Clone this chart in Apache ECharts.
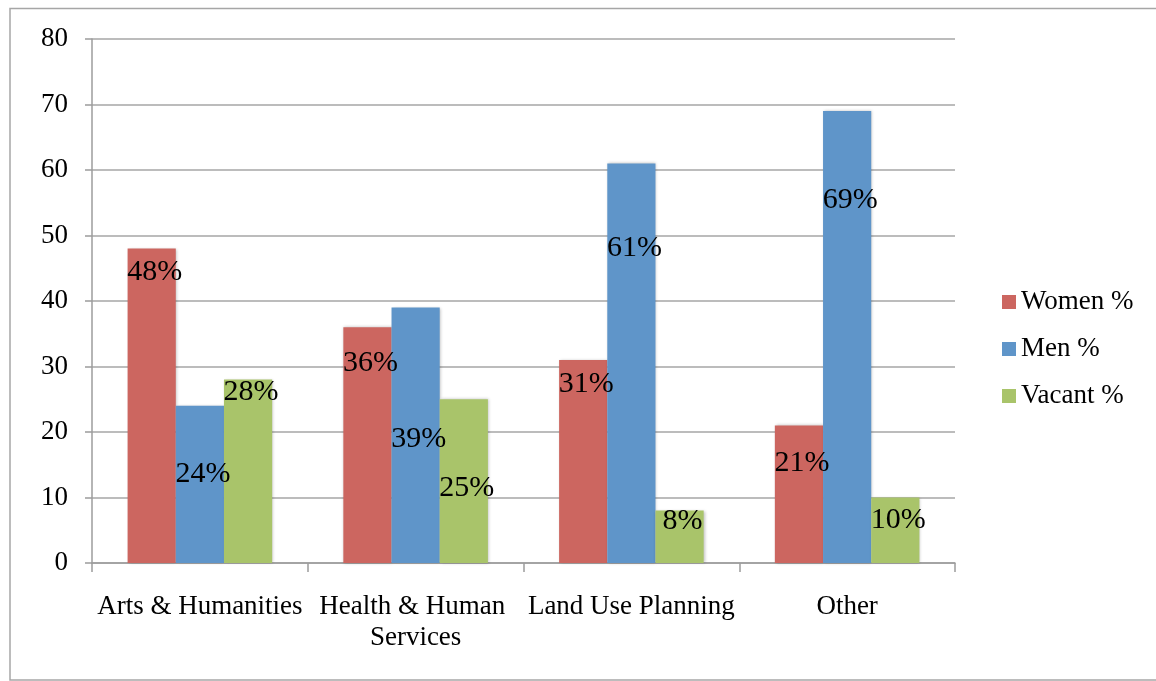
<!DOCTYPE html>
<html>
<head>
<meta charset="utf-8">
<script src="https://cdn.jsdelivr.net/npm/echarts@6/dist/echarts.min.js"></script>
<style>
html,body{margin:0;padding:0;background:#fff;}
#chart{width:1156px;height:681px;}
</style>
</head>
<body>
<div id="chart"></div>
<script>
const categories = ['Arts & Humanities', 'Health & Human Services', 'Land Use Planning', 'Other'];
const seriesNames = ['Women %', 'Men %', 'Vacant %'];
const women = [48, 36, 31, 21];
const men = [24, 39, 61, 69];
const vacant = [28, 25, 8, 10];
const yTicks = { min: 0, max: 80, interval: 10 };

// label placement (px below bar top), a layout setting
const labelDrop = {
  'Women %': [24, 36, 24, 38],
  'Men %': [68, 132, 85, 89],
  'Vacant %': [13, 89, 11, 23]
};
const colors = { 'Women %': '#CC6660', 'Men %': '#5F95C9', 'Vacant %': '#A9C46A' };
const FONT = 'Liberation Serif';

const chart = echarts.init(document.getElementById('chart'), null, { renderer: 'canvas' });

function makeSeries(name, values) {
  return {
    name: name,
    type: 'bar',
    barGap: '0%',
    barCategoryGap: '33%',
    itemStyle: {
      color: colors[name],
      shadowColor: 'rgba(0,0,0,0.25)',
      shadowBlur: 3,
      shadowOffsetX: 1,
      shadowOffsetY: 0
    },
    data: values.map((v, i) => ({
      value: v,
      label: {
        show: true,
        position: ['50%', labelDrop[name][i]],
        align: 'center',
        verticalAlign: 'middle',
        offset: [3, 0],
        formatter: v + '%',
        fontFamily: FONT,
        fontSize: 30,
        color: '#000'
      }
    }))
  };
}

chart.setOption({
  animation: false,
  backgroundColor: '#fff',
  textStyle: { fontFamily: FONT },
  graphic: [{
    type: 'rect',
    shape: { x: 10, y: 8.5, width: 1200, height: 671.5 },
    style: { fill: 'none', stroke: '#a6a6a6', lineWidth: 1.5 },
    silent: true,
    z: -10
  }],
  grid: { left: 92, right: 1156 - 955, top: 39, bottom: 681 - 563, containLabel: false },
  legend: {
    orient: 'vertical',
    left: 997,
    top: 282,
    icon: 'rect',
    itemWidth: 14,
    itemHeight: 14,
    itemGap: 17,
    itemTextGap: 6,
    textStyle: { fontFamily: FONT, fontSize: 27, color: '#000', lineHeight: 30 },
    data: seriesNames
  },
  xAxis: {
    type: 'category',
    data: categories,
    axisLine: { show: true, lineStyle: { color: '#9c9c9c', width: 1.5 } },
    axisTick: { show: true, alignWithLabel: false, length: 9, lineStyle: { color: '#9c9c9c', width: 1.5 } },
    axisLabel: {
      interval: 0,
      margin: 28,
      width: 215,
      overflow: 'break',
      fontFamily: FONT,
      fontSize: 27,
      lineHeight: 31,
      color: '#000'
    },
    splitLine: { show: false }
  },
  yAxis: {
    type: 'value',
    min: yTicks.min,
    max: yTicks.max,
    interval: yTicks.interval,
    axisLine: { show: true, lineStyle: { color: '#9c9c9c', width: 1.5 } },
    axisTick: { show: true, inside: false, length: 7, lineStyle: { color: '#9c9c9c', width: 1.5 } },
    axisLabel: { margin: 24, fontFamily: FONT, fontSize: 27, color: '#000' },
    splitLine: { show: true, lineStyle: { color: '#a6a6a6', width: 1.5 } }
  },
  series: [
    makeSeries('Women %', women),
    makeSeries('Men %', men),
    makeSeries('Vacant %', vacant)
  ]
});
</script>
</body>
</html>
